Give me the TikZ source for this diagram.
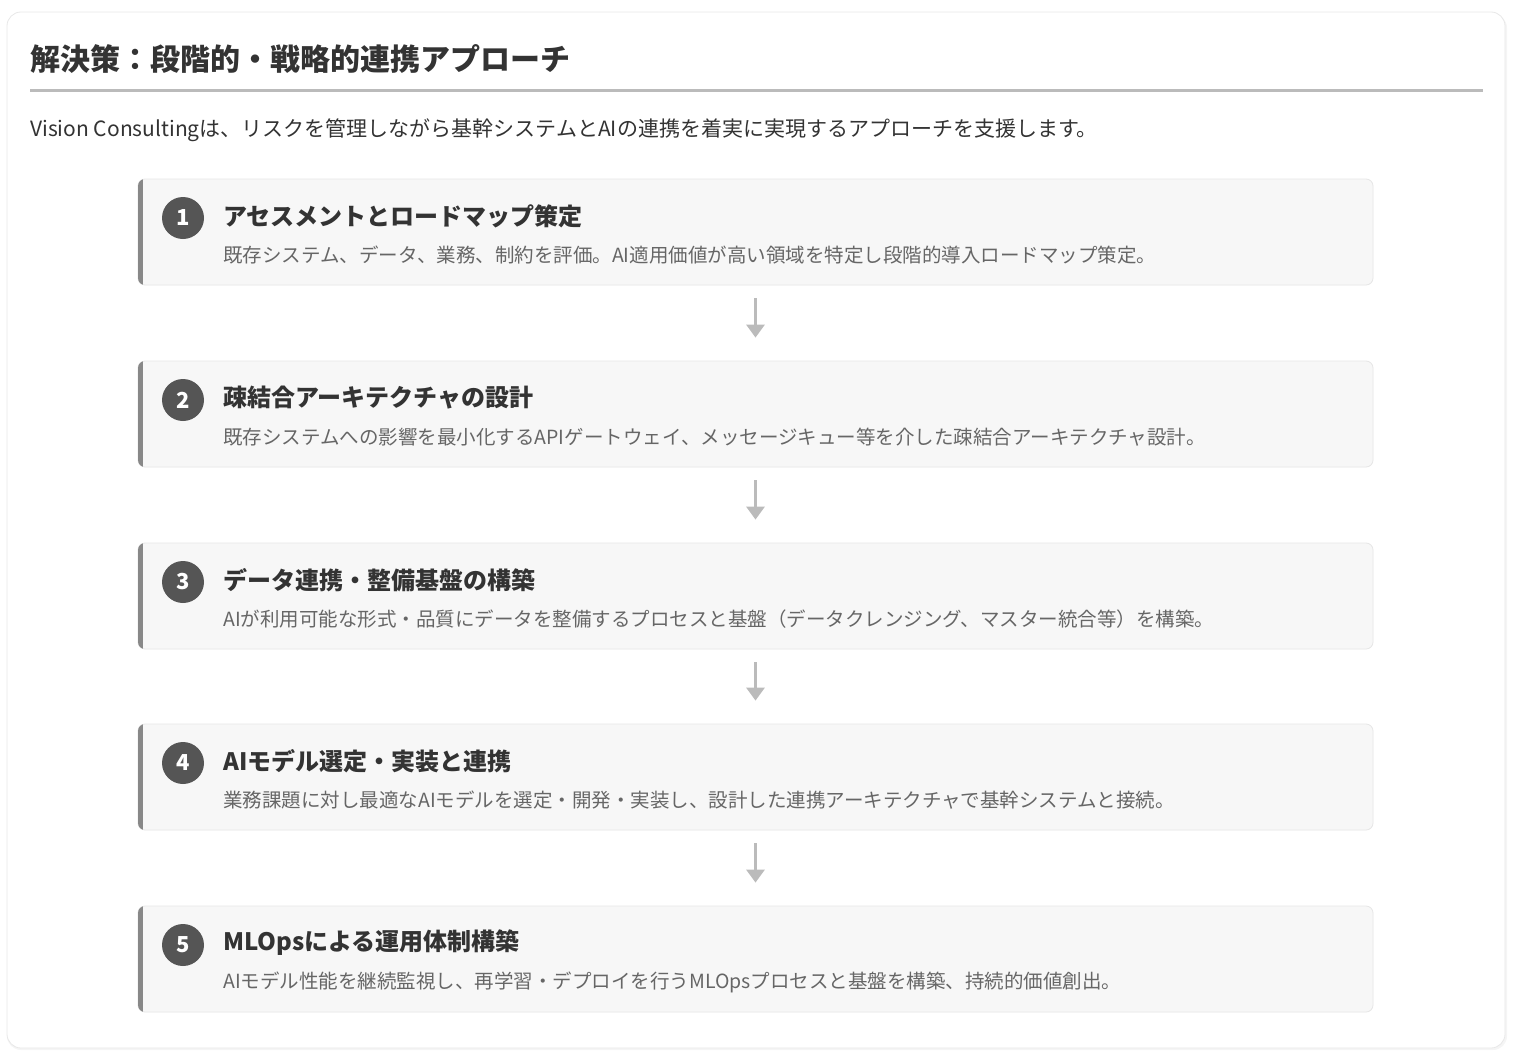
\documentclass[tikz,border=0pt]{standalone}
\usepackage{fontspec}
\setmainfont{Noto Sans CJK JP}
\usetikzlibrary{arrows.meta}
\definecolor{txt}{HTML}{333333}
\definecolor{desc}{HTML}{666666}
\definecolor{cardfill}{HTML}{F7F7F7}
\definecolor{cardline}{HTML}{E6E6E6}
\definecolor{strip}{HTML}{888888}
\definecolor{numfill}{HTML}{555555}
\definecolor{arrowc}{HTML}{BBBBBB}
\definecolor{rulec}{HTML}{BBBBBB}
\tikzset{
  cardbox/.style={draw=cardline, fill=cardfill, rounded corners=7pt, minimum width=1235pt, minimum height=106pt, inner sep=0pt, line width=0.8pt},
  numcircle/.style={circle, fill=numfill, minimum size=42pt, inner sep=0pt, text=white, font=\fontsize{22}{26}\selectfont\bfseries},
  cardtitle/.style={anchor=west, inner sep=0pt, text=txt, font=\fontsize{24}{28}\selectfont\bfseries},
  carddesc/.style={anchor=west, inner sep=0pt, text=desc, font=\fontsize{19.5}{23}\selectfont},
  flowarrow/.style={draw=arrowc, line width=3pt, -{Triangle[width=18pt,length=13pt]}, shorten <=13pt, shorten >=23pt}
}
\begin{document}
\begin{tikzpicture}[x=1pt,y=-1pt]
\useasboundingbox (0,0) rectangle (1513,1060);
% outer panel with soft shadow
\fill[black!4, rounded corners=14pt] (7,14) rectangle (1507,1050);
\node[draw=black!9, fill=white, rounded corners=14pt, minimum width=1498pt, minimum height=1036pt, inner sep=0pt, line width=0.8pt] (panel) at (756,530) {};
% title
\node[anchor=west, inner sep=0pt, text=txt, font=\fontsize{30}{34}\selectfont\bfseries] (title) at (30,59) {解決策：段階的・戦略的連携アプローチ};
\draw[rulec, line width=3pt] (30,90) coordinate (ruleL) -- (1483,90) coordinate (ruleR);
\node[anchor=west, inner sep=0pt, text=txt, font=\fontsize{21}{25}\selectfont] (subtitle) at (30,130.5) {Vision Consultingは、リスクを管理しながら基幹システムとAIの連携を着実に実現するアプローチを支援します。};
% cards
\foreach \i/\top/\ttl/\dsc in {
1/179/アセスメントとロードマップ策定/既存システム、データ、業務、制約を評価。AI適用価値が高い領域を特定し段階的導入ロードマップ策定。,
2/361/疎結合アーキテクチャの設計/既存システムへの影響を最小化するAPIゲートウェイ、メッセージキュー等を介した疎結合アーキテクチャ設計。,
3/543/データ連携・整備基盤の構築/AIが利用可能な形式・品質にデータを整備するプロセスと基盤（データクレンジング、マスター統合等）を構築。,
4/724/AIモデル選定・実装と連携/業務課題に対し最適なAIモデルを選定・開発・実装し、設計した連携アーキテクチャで基幹システムと接続。,
5/906/MLOpsによる運用体制構築/AIモデル性能を継続監視し、再学習・デプロイを行うMLOpsプロセスと基盤を構築、持続的価値創出。}{
  \node[cardbox] (card\i) at (755.5,\top+53) {};
  \begin{scope}
    \clip[rounded corners=7pt] (138,\top) rectangle (1373,\top+106);
    \fill[strip] (136,\top-2) rectangle (143,\top+108);
  \end{scope}
  \node[numcircle] (num\i) at (183,\top+39) {\i};
  \node[cardtitle] (ttl\i) at (223,\top+37) {\ttl};
  \node[carddesc] (dsc\i) at (223,\top+76) {\dsc};
}
\foreach \a/\b in {1/2,2/3,3/4,4/5}{
  \draw[flowarrow] (card\a.south) -- (card\b.north);
}
\end{tikzpicture}
\end{document}
